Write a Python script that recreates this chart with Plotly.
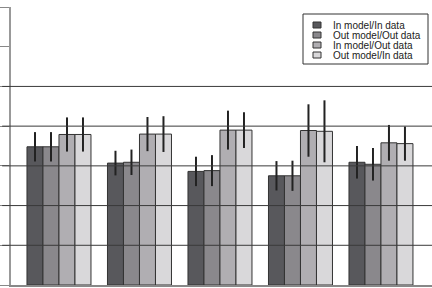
import plotly.graph_objects as go

groups = [0, 1, 2, 3, 4]
series_names = ["In model/In data", "Out model/Out data", "In model/Out data", "Out model/In data"]
values = [
    [3.48, 3.07, 2.86, 2.75, 3.09],
    [3.48, 3.09, 2.88, 2.75, 3.04],
    [3.79, 3.80, 3.90, 3.89, 3.58],
    [3.79, 3.80, 3.90, 3.87, 3.56],
]
errors = [
    [0.37, 0.31, 0.37, 0.37, 0.41],
    [0.37, 0.32, 0.39, 0.38, 0.41],
    [0.43, 0.43, 0.49, 0.66, 0.45],
    [0.43, 0.45, 0.45, 0.78, 0.43],
]
colors = ["#58585c", "#8a888c", "#b0aeb2", "#d9d8da"]
grid_levels = [1, 2, 3, 4, 5]
tick_levels = [0, 1, 2, 3, 4, 5, 6, 7]

fig = go.Figure()
for name, vals, errs, col in zip(series_names, values, errors, colors):
    fig.add_trace(go.Bar(
        x=groups, y=vals, name=name,
        marker=dict(color=col, line=dict(color="#333333", width=1)),
        error_y=dict(type="data", array=errs, visible=True, color="#222222", thickness=2, width=0),
        showlegend=False,
    ))

shapes = []
for g in grid_levels:
    shapes.append(dict(type="line", xref="paper", yref="y", x0=-0.021, x1=1, y0=g, y1=g,
                       line=dict(color="#3a3a3a", width=1), layer="above"))

# manual legend
lx0, lx1, ly0, ly1 = 303, 428, 14, 64
W, H = 432, 288
ml, mr, mt, mb = 11, 0, 7, 3
pw, ph = W - ml - mr, H - mt - mb
def px(x):
    return (x - ml) / pw
def py(y):
    return 1 - (y - mt) / ph
shapes.append(dict(type="rect", xref="paper", yref="paper", x0=px(lx0), x1=px(lx1), y0=py(ly1), y1=py(ly0),
                   line=dict(color="#333333", width=1), fillcolor="white", layer="above"))
annotations = []
for i, (name, col) in enumerate(zip(series_names, colors)):
    cy = 25 + 10 * i
    shapes.append(dict(type="rect", xref="paper", yref="paper", x0=px(313), x1=px(321), y0=py(cy + 3), y1=py(cy - 3),
                       line=dict(color="#333333", width=1), fillcolor=col, layer="above"))
    annotations.append(dict(xref="paper", yref="paper", x=px(331), y=py(cy), text=name, showarrow=False,
                            xanchor="left", yanchor="middle",
                            font=dict(family="Liberation Sans, Arial", size=10, color="#222222")))

fig.update_layout(
    width=W, height=H,
    margin=dict(l=ml, r=mr, t=mt, b=mb, pad=0),
    paper_bgcolor="white", plot_bgcolor="white",
    barmode="group", bargap=0.205, bargroupgap=0,
    shapes=shapes, annotations=annotations,
    showlegend=False,
    xaxis=dict(range=[-0.596, 4.634], showticklabels=False, ticks="", showgrid=False,
               showline=True, linecolor="#888888", linewidth=2, zeroline=False),
    yaxis=dict(range=[0, 7], tickvals=tick_levels, showticklabels=False, ticks="outside", ticklen=9,
               tickcolor="#888888", tickwidth=1, showgrid=False, showline=True, linecolor="#999999",
               linewidth=2, zeroline=False),
)
fig.write_html("out.html")
